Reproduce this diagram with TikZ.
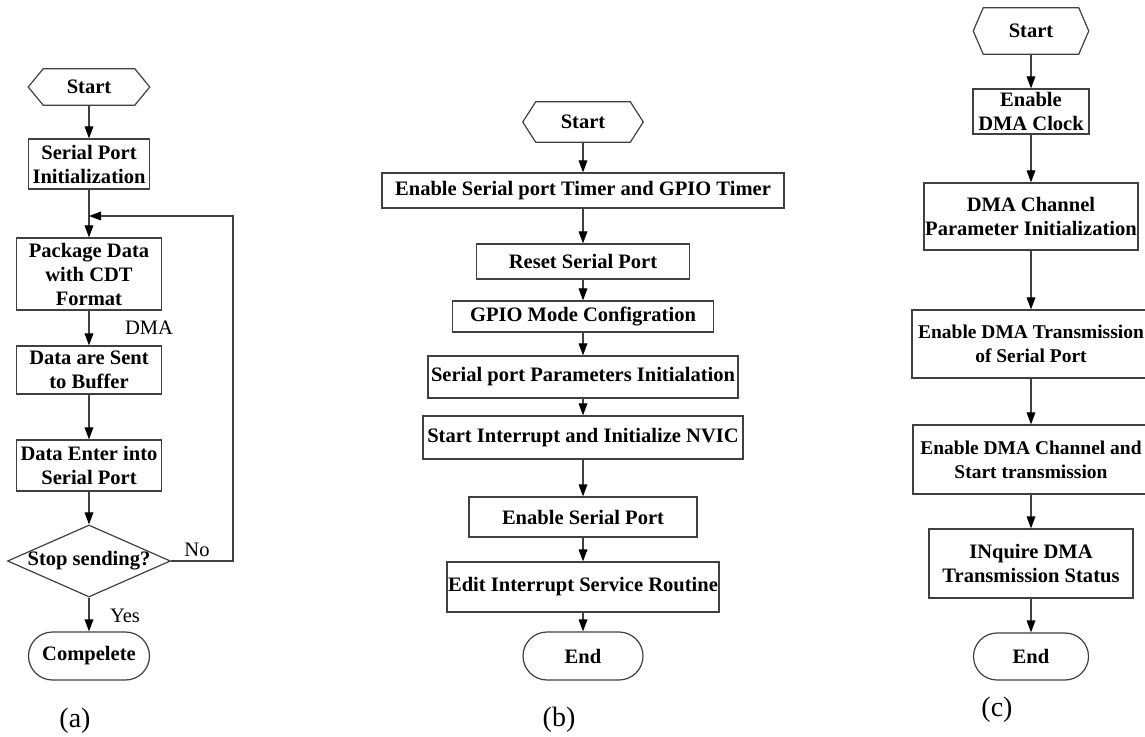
\documentclass[tikz,border=0pt]{standalone}
\usepackage{fontspec}
\setmainfont{Liberation Serif}
\usetikzlibrary{arrows.meta,shapes.geometric,calc}
\newcommand{\hexdraw}[2]{\draw[ln] ([xshift=#2*0.75pt]#1.north west) -- ([xshift=-#2*0.75pt]#1.north east) -- (#1.east) -- ([xshift=-#2*0.75pt]#1.south east) -- ([xshift=#2*0.75pt]#1.south west) -- (#1.west) -- cycle;}
\tikzset{
  ln/.style={draw=black!75, line width=0.9pt},
  arr/.style={ln, -{Triangle[length=9pt,width=6.5pt,color=black]}},
  bt/.style={font=\fontsize{15.4}{18}\selectfont\bfseries, align=center, inner sep=0pt},
  lt/.style={font=\fontsize{15.4}{18}\selectfont, inner sep=0pt},
  captxt/.style={font=\fontsize{21}{24}\selectfont, inner sep=0pt},
  box/.style 2 args={bt, rectangle, ln, minimum width=#1*0.75pt, minimum height=#2*0.75pt},
  hexn/.style 2 args={bt, rectangle, minimum width=#1*0.75pt, minimum height=#2*0.75pt},
  stad/.style 2 args={bt, rectangle, ln, rounded corners=#2*0.375pt, minimum width=#1*0.75pt, minimum height=#2*0.75pt},
  narrowtxt/.style={font=\fontsize{14.6}{18}\selectfont\bfseries}
}
\begin{document}
\begin{tikzpicture}[x=0.75pt,y=-0.75pt]
\clip (0,0) rectangle (1145,737);
\fill[white] (0,0) rectangle (1145,737);

% ---------------- (a) ----------------
\node[hexn={121}{36}] (sA) at (89,87) {Start};
\hexdraw{sA}{15}
\node[box={121}{50}] (iA) at (89,164) {Serial Port\\Initialization};
\node[box={145}{72}] (pA) at (89,274) {Package Data\\with CDT\\Format};
\node[box={145}{48}] (bA) at (89,370) {Data are Sent\\to Buffer};
\node[box={145}{51}] (eA) at (89,465.5) {Data Enter into\\Serial Port};
\node[diamond, ln, minimum width=163*0.75pt, minimum height=72*0.75pt, inner sep=0pt] (dA) at (89,561) {};
\node[bt] (dAt) at (dA) {Stop sending?};
\node[stad={121}{48}] (cA) at (89,656) {Compelete};
\coordinate (mA) at (89,216);
\coordinate (lA) at (233,561);

\draw[arr] (sA) -- (iA);
\draw[arr] (iA) -- (pA);
\draw[arr] (pA) -- (bA);
\draw[arr] (bA) -- (eA);
\draw[arr] (eA) -- (dA);
\draw[arr] (dA) -- (cA);
\draw[arr] (dA.east) -- (lA) |- (mA);

\node[lt] (lDMA) at (149,328) {DMA};
\node[lt] (lNo) at (197,550) {No};
\node[lt] (lYes) at (125,616) {Yes};
\node[captxt] (capA) at (75,721) {(a)};

% ---------------- (b) ----------------
\node[hexn={120}{40}] (sB) at (583,122) {Start};
\hexdraw{sB}{13}
\node[box={402}{35}] (b1) at (583,190.5) {Enable Serial port Timer and GPIO Timer};
\node[box={213}{35}] (b2) at (583,261.5) {Reset Serial Port};
\node[box={261}{31}] (b3) at (583,316.5) {GPIO Mode Configration};
\node[box={310}{42}] (b4) at (583,377) {Serial port Parameters Initialation};
\node[box={320}{43}] (b5) at (583,437.5) {Start Interrupt and Initialize NVIC};
\node[box={228}{40}] (b6) at (583,517) {Enable Serial Port};
\node[box={272}{50}] (b7) at (583,587) {Edit Interrupt Service Routine};
\node[stad={120}{48}] (eB) at (583,656) {End};

\draw[arr] (sB) -- (b1);
\draw[arr] (b1) -- (b2);
\draw[arr] (b2) -- (b3);
\draw[arr] (b3) -- (b4);
\draw[arr] (b4) -- (b5);
\draw[arr] (b5) -- (b6);
\draw[arr] (b6) -- (b7);
\draw[arr] (b7) -- (eB);

\node[captxt] (capB) at (559,720) {(b)};

% ---------------- (c) ----------------
\node[hexn={115}{46}] (sC) at (1031,31) {Start};
\hexdraw{sC}{10}
\node[box={116}{45}] (c1) at (1031,111.5) {Enable\\DMA Clock};
\node[box={214}{67}] (c2) at (1031,216.5) {DMA Channel\\Parameter Initialization};
\node[box={238}{68}, narrowtxt] (c3) at (1031,344) {Enable DMA Transmission\\of Serial Port};
\node[box={236}{69}, narrowtxt] (c4) at (1031,459.5) {Enable DMA Channel and\\Start transmission};
\node[box={204}{69}] (c5) at (1031,563.5) {INquire DMA\\Transmission Status};
\node[stad={115}{47}] (eC) at (1031,656.5) {End};

\draw[arr] (sC) -- (c1);
\draw[arr] (c1) -- (c2);
\draw[arr] (c2) -- (c3);
\draw[arr] (c3) -- (c4);
\draw[arr] (c4) -- (c5);
\draw[arr] (c5) -- (eC);

\node[captxt] (capC) at (997,710) {(c)};
\end{tikzpicture}
\end{document}
